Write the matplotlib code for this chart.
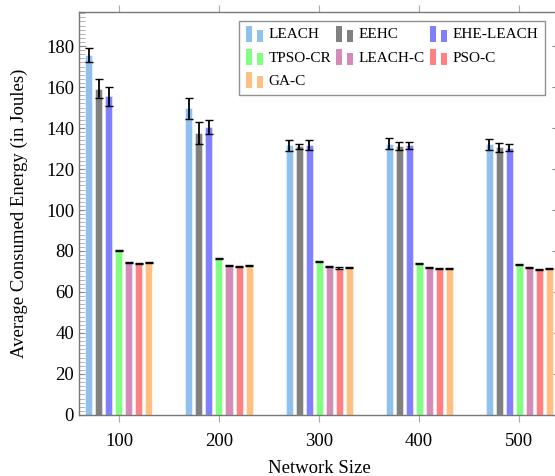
import numpy as np
import matplotlib
matplotlib.use("Agg")
import matplotlib.pyplot as plt
from matplotlib.patches import Rectangle
from matplotlib.legend_handler import HandlerBase
from matplotlib.container import BarContainer
from matplotlib.ticker import MultipleLocator

plt.rcParams["font.family"] = ["Liberation Serif", "DejaVu Serif"]

# ── data ──────────────────────────────────────────
network_sizes = [100, 200, 300, 400, 500]
methods = ["LEACH", "EEHC", "EHE-LEACH", "TPSO-CR", "LEACH-C", "PSO-C", "GA-C"]
colors = ["#8fc1ef", "#808080", "#8080ff", "#80ff80", "#d48bb8", "#ff8080", "#ffbf80"]

energy = {
    "LEACH":     [175.6, 149.6, 131.5, 132.4, 132.0],
    "EEHC":      [159.2, 137.6, 131.0, 131.2, 130.6],
    "EHE-LEACH": [155.5, 140.6, 131.8, 131.6, 130.4],
    "TPSO-CR":   [80.4, 76.2, 74.8, 74.1, 73.4],
    "LEACH-C":   [74.5, 72.9, 72.6, 72.1, 72.1],
    "PSO-C":     [74.0, 72.4, 71.7, 71.4, 71.2],
    "GA-C":      [74.5, 72.7, 71.9, 71.6, 71.4],
}
errors = {
    "LEACH":     [3.4, 5.0, 2.8, 2.7, 2.5],
    "EEHC":      [4.5, 5.5, 1.3, 1.8, 2.2],
    "EHE-LEACH": [4.6, 3.3, 2.3, 1.8, 1.8],
    "TPSO-CR":   [0.3, 0.25, 0.25, 0.25, 0.25],
    "LEACH-C":   [0.25, 0.25, 0.25, 0.25, 0.25],
    "PSO-C":     [0.25, 0.25, 0.25, 0.25, 0.25],
    "GA-C":      [0.25, 0.25, 0.25, 0.25, 0.25],
}


# pgfplots-style legend image: two small bars
class TwoBars(HandlerBase):
    def create_artists(self, legend, orig, xd, yd, w, h, fontsize, trans):
        c = orig.patches[0].get_facecolor()
        r1 = Rectangle((xd, yd - 0.3 * h), 0.35 * w, 1.45 * h,
                       fc=c, ec="none", transform=trans)
        r2 = Rectangle((xd + 0.6 * w, yd - 0.3 * h), 0.35 * w, 1.1 * h,
                       fc=c, ec="none", transform=trans)
        return [r1, r2]


fig = plt.figure(figsize=(5.55, 4.76), dpi=100)
ax = fig.add_axes([0.1423, 0.1282, 0.865, 0.8466])

x = np.array(network_sizes, dtype=float)
bar_w = 7
handles = {}
for i, m in enumerate(methods):
    off = (i - 3) * 10
    bars = ax.bar(x + off, energy[m], width=bar_w, color=colors[i],
                  edgecolor=(1, 1, 1, 0.45), linewidth=0.8, label=m, zorder=2)
    ax.errorbar(x + off, energy[m], yerr=errors[m], fmt="none",
                ecolor="black", elinewidth=1.3, capsize=3, capthick=1.0, zorder=3)
    handles[m] = bars

ax.set_xlim(60, 540)
ax.set_ylim(0, 196.6)
ax.set_xticks(network_sizes)
ax.set_yticks(np.arange(0, 181, 20))
ax.yaxis.set_minor_locator(MultipleLocator(2))

for s in ax.spines.values():
    s.set_color("#777777")
    s.set_linewidth(1.0)

ax.tick_params(axis="x", direction="out", top=True, bottom=True,
               length=5, width=0.8, color="#aaaaaa", labelsize=13.5, pad=8)
ax.tick_params(axis="y", which="major", direction="in", left=True, right=True,
               length=5, width=0.8, color="#888888", labelsize=13.5)
ax.tick_params(axis="y", which="minor", direction="in", left=True, right=False,
               length=4, width=0.6, color="#aaaaaa")

ax.set_xlabel("Network Size", fontsize=13.5, labelpad=7.5)
ax.set_ylabel("Average Consumed Energy (in Joules)", fontsize=13.5, labelpad=13)

# matplotlib fills legend columns first, so reorder for row-wise layout
order = ["LEACH", "TPSO-CR", "GA-C", "EEHC", "LEACH-C", "EHE-LEACH", "PSO-C"]
leg = ax.legend([handles[m] for m in order], order, ncol=3,
                loc="upper right", bbox_to_anchor=(0.971, 0.978),
                borderaxespad=0, fontsize=11, frameon=True, fancybox=False,
                handler_map={BarContainer: TwoBars()},
                handlelength=1.2, handletextpad=0.3, columnspacing=0.3,
                labelspacing=0.62, borderpad=0.45)
leg.get_frame().set_edgecolor("#777777")
leg.get_frame().set_linewidth(1.0)

fig.savefig("out.png", dpi=100)
